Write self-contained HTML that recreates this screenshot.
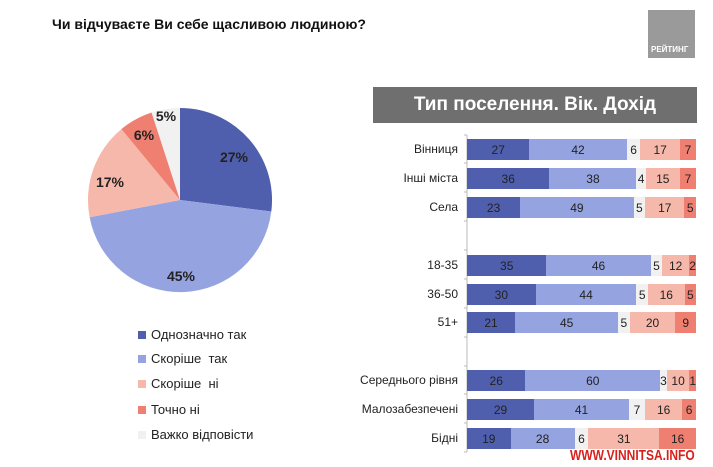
<!DOCTYPE html>
<html><head><meta charset="utf-8"><style>
body{margin:0;width:713px;height:467px;background:#fff;position:relative;overflow:hidden;font-family:"Liberation Sans",sans-serif;}
.a{position:absolute}
.row{position:absolute;left:467px;width:229px;height:21px;display:flex;font-size:12px;color:#222;}
.row div{display:flex;align-items:center;justify-content:center;overflow:visible;white-space:nowrap}
.c1{background:#4f5fae}.c2{background:#95a4e0}.c3{background:#f1f1f1}.c4{background:#f6b8aa}.c5{background:#ee7f71}
.lab{position:absolute;right:255px;font-size:12px;color:#222;text-align:right;white-space:nowrap}
.lg{position:absolute;left:138px;font-size:13px;color:#222}
.lg i{position:absolute;left:0;top:4px;width:8px;height:8px}
.lg span{position:absolute;left:13px;white-space:nowrap}
</style></head><body>
<div class="a" style="left:52px;top:16px;font-size:14px;font-weight:bold;color:#111">Чи відчуваєте Ви себе щасливою людиною?</div>
<div class="a" style="left:648px;top:10px;width:47px;height:48px;background:#9a9a9a;"></div>
<div class="a" style="left:651px;top:45px;font-size:8px;font-weight:bold;color:#fff">РЕЙТИНГ</div>
<div class="a" style="left:373px;top:87px;width:324px;height:36px;background:#6f6f6f;color:#fff;font-size:19px;font-weight:bold;text-align:center;line-height:36px">Тип поселення. Вік. Дохід</div>
<svg class="a" style="left:0;top:0" width="713" height="467">
<path d="M180 200 L180 108 A92 92 0 0 1 271.3 211.5Z" fill="#4f5fae"/>
<path d="M180 200 L271.3 211.5 A92 92 0 0 1 89.6 217.2Z" fill="#95a4e0"/>
<path d="M180 200 L89.6 217.2 A92 92 0 0 1 121.4 129.1Z" fill="#f6b8aa"/>
<path d="M180 200 L121.4 129.1 A92 92 0 0 1 151.6 112.5Z" fill="#ee7f71"/>
<path d="M180 200 L151.6 112.5 A92 92 0 0 1 180 108Z" fill="#f1f1f1"/>
<g font-family="Liberation Sans" font-size="14" font-weight="bold" fill="#222" text-anchor="middle">
<text x="234" y="162">27%</text><text x="181" y="281">45%</text><text x="110" y="187">17%</text><text x="144" y="140">6%</text><text x="166" y="121">5%</text></g>
<line x1="467" y1="135" x2="467" y2="452" stroke="#bbb"/>
<g stroke="#bbb"><line x1="464" y1="135" x2="467" y2="135"/><line x1="464" y1="163" x2="467" y2="163"/><line x1="464" y1="192" x2="467" y2="192"/><line x1="464" y1="221" x2="467" y2="221"/><line x1="464" y1="250" x2="467" y2="250"/><line x1="464" y1="279" x2="467" y2="279"/><line x1="464" y1="308" x2="467" y2="308"/><line x1="464" y1="337" x2="467" y2="337"/><line x1="464" y1="366" x2="467" y2="366"/><line x1="464" y1="394" x2="467" y2="394"/><line x1="464" y1="423" x2="467" y2="423"/><line x1="464" y1="452" x2="467" y2="452"/></g>
</svg>
<div class="lg" style="top:327px"><i class="c1"></i><span>Однозначно так</span></div>
<div class="lg" style="top:351px"><i class="c2"></i><span>Скоріше&nbsp; так</span></div>
<div class="lg" style="top:376px"><i class="c4"></i><span>Скоріше&nbsp; ні</span></div>
<div class="lg" style="top:402px"><i class="c5"></i><span>Точно ні</span></div>
<div class="lg" style="top:427px"><i class="c3"></i><span>Важко відповісти</span></div>

<div class="lab" style="top:142px">Вінниця</div>
<div class="row" style="top:139px"><div class="c1" style="flex:27">27</div><div class="c2" style="flex:42">42</div><div class="c3" style="flex:6">6</div><div class="c4" style="flex:17">17</div><div class="c5" style="flex:7">7</div></div>
<div class="lab" style="top:171px">Інші міста</div>
<div class="row" style="top:168px"><div class="c1" style="flex:36">36</div><div class="c2" style="flex:38">38</div><div class="c3" style="flex:4">4</div><div class="c4" style="flex:15">15</div><div class="c5" style="flex:7">7</div></div>
<div class="lab" style="top:200px">Села</div>
<div class="row" style="top:197px"><div class="c1" style="flex:23">23</div><div class="c2" style="flex:49">49</div><div class="c3" style="flex:5">5</div><div class="c4" style="flex:17">17</div><div class="c5" style="flex:5">5</div></div>
<div class="lab" style="top:258px">18-35</div>
<div class="row" style="top:255px"><div class="c1" style="flex:35">35</div><div class="c2" style="flex:46">46</div><div class="c3" style="flex:5">5</div><div class="c4" style="flex:12">12</div><div class="c5" style="flex:2">2</div></div>
<div class="lab" style="top:287px">36-50</div>
<div class="row" style="top:284px"><div class="c1" style="flex:30">30</div><div class="c2" style="flex:44">44</div><div class="c3" style="flex:5">5</div><div class="c4" style="flex:16">16</div><div class="c5" style="flex:5">5</div></div>
<div class="lab" style="top:315px">51+</div>
<div class="row" style="top:312px"><div class="c1" style="flex:21">21</div><div class="c2" style="flex:45">45</div><div class="c3" style="flex:5">5</div><div class="c4" style="flex:20">20</div><div class="c5" style="flex:9">9</div></div>
<div class="lab" style="top:373px">Середнього рівня</div>
<div class="row" style="top:370px"><div class="c1" style="flex:26">26</div><div class="c2" style="flex:60">60</div><div class="c3" style="flex:3">3</div><div class="c4" style="flex:10">10</div><div class="c5" style="flex:1">1</div></div>
<div class="lab" style="top:402px">Малозабезпечені</div>
<div class="row" style="top:399px"><div class="c1" style="flex:29">29</div><div class="c2" style="flex:41">41</div><div class="c3" style="flex:7">7</div><div class="c4" style="flex:16">16</div><div class="c5" style="flex:6">6</div></div>
<div class="lab" style="top:431px">Бідні</div>
<div class="row" style="top:428px"><div class="c1" style="flex:19">19</div><div class="c2" style="flex:28">28</div><div class="c3" style="flex:6">6</div><div class="c4" style="flex:31">31</div><div class="c5" style="flex:16">16</div></div>
<div class="a" style="left:570px;top:447px;font-size:15px;font-weight:bold;color:#d8201c;transform:scaleX(0.8);transform-origin:left top;white-space:nowrap">WWW.VINNITSA.INFO</div>
</body></html>
